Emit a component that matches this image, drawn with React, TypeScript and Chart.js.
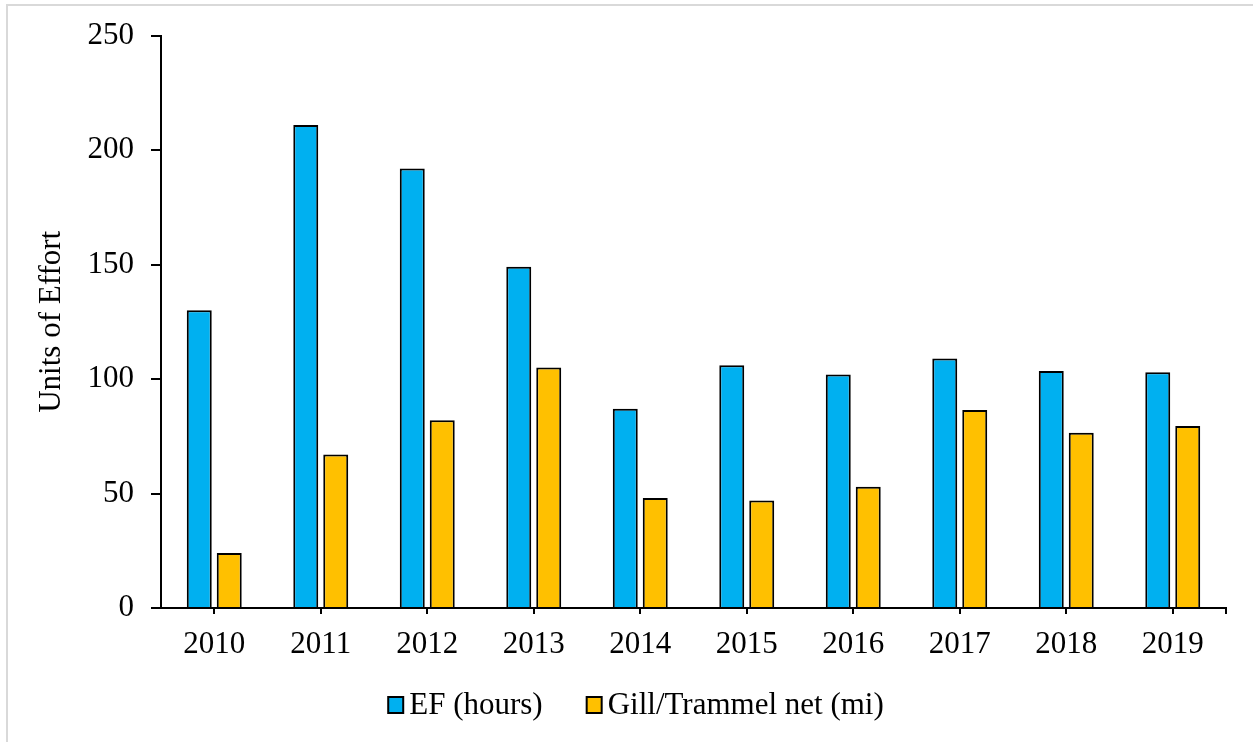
import React, { useEffect, useRef } from "react";
import { Chart, registerables } from "chart.js";

Chart.register(...registerables);

const years = ["2010", "2011", "2012", "2013", "2014", "2015", "2016", "2017", "2018", "2019"];
const efHours = [130, 211, 192, 149, 87, 106, 102, 109, 103.5, 103];
const gillNet = [24, 67, 82, 105, 48, 47, 53, 86.5, 76.5, 79.5];
const yTicks = [0, 50, 100, 150, 200, 250];
const seriesLabels = ["EF (hours)", "Gill/Trammel net (mi)"];

const FONT = '"Liberation Serif", "Times New Roman", serif';
const FS = 31;

const endTickPlugin = {
  id: "endTick",
  afterDraw(chart: any) {
    const { ctx, chartArea } = chart;
    ctx.save();
    ctx.strokeStyle = "#000";
    ctx.lineWidth = 2;
    ctx.beginPath();
    ctx.moveTo(chartArea.right, chartArea.bottom);
    ctx.lineTo(chartArea.right, chartArea.bottom + 6);
    ctx.stroke();
    ctx.restore();
  },
};

const legendPlugin = {
  id: "customLegend",
  afterDraw(chart: any) {
    const { ctx } = chart;
    const ds = chart.data.datasets;
    ctx.save();
    ctx.font = `${FS}px ${FONT}`;
    const boxW = 15;
    const boxH = 16;
    const gap = 6;
    const itemGap = 44;
    const widths = ds.map((d: any) => boxW + gap + ctx.measureText(d.label).width);
    const total = widths.reduce((a: number, b: number) => a + b, 0) + itemGap * (ds.length - 1);
    const cx = 636;
    const cy = 705;
    let x = cx - total / 2;
    ds.forEach((d: any, i: number) => {
      ctx.fillStyle = d.backgroundColor;
      ctx.fillRect(x, cy - boxH / 2, boxW, boxH);
      ctx.strokeStyle = "#000";
      ctx.lineWidth = 2;
      ctx.strokeRect(x, cy - boxH / 2, boxW, boxH);
      ctx.fillStyle = "#000";
      ctx.textBaseline = "middle";
      ctx.textAlign = "left";
      ctx.fillText(d.label, x + boxW + gap, cy + 1);
      x += widths[i] + itemGap;
    });
    ctx.restore();
  },
};

export default function App() {
  const ref = useRef<HTMLCanvasElement | null>(null);

  useEffect(() => {
    if (!ref.current) return;
    const chart = new Chart(ref.current, {
      type: "bar",
      data: {
        labels: years,
        datasets: [
          {
            label: seriesLabels[0],
            data: efHours,
            backgroundColor: "#00B0F0",
            borderColor: "#000",
            borderWidth: 2,
          },
          {
            label: seriesLabels[1],
            data: gillNet,
            backgroundColor: "#FFC000",
            borderColor: "#000",
            borderWidth: 2,
          },
        ],
      },
      options: {
        responsive: false,
        animation: false,
        devicePixelRatio: 1,
        datasets: {
          bar: {
            categoryPercentage: 0.563,
            barPercentage: 0.833,
          },
        },
        layout: { padding: { left: 0, right: 27, top: 35, bottom: 63 } },
        plugins: {
          legend: { display: false },
          tooltip: { enabled: false },
        },
        scales: {
          x: {
            type: "category",
            offset: true,
            grid: {
              offset: false,
              drawOnChartArea: false,
              drawTicks: true,
              tickLength: 6,
              color: "#000",
              lineWidth: 2,
            },
            border: { display: true, color: "#000", width: 2 },
            ticks: {
              color: "#000",
              font: { family: FONT, size: FS },
              padding: 12,
              maxRotation: 0,
            },
            afterFit: (s: any) => {
              s.height = 71;
            },
          },
          y: {
            min: 0,
            max: 250,
            afterBuildTicks: (s: any) => {
              s.ticks = yTicks.map((v) => ({ value: v }));
            },
            grid: {
              drawOnChartArea: false,
              drawTicks: true,
              tickLength: 10,
              color: "#000",
              lineWidth: 2,
            },
            border: { display: true, color: "#000", width: 2 },
            ticks: {
              color: "#000",
              font: { family: FONT, size: FS },
              padding: 17,
            },
            title: {
              display: true,
              text: "Units of Effort",
              color: "#000",
              font: { family: FONT, size: FS },
              padding: { top: 33, bottom: 0 },
            },
            afterFit: (s: any) => {
              s.width = 161;
            },
          },
        },
      },
      plugins: [endTickPlugin, legendPlugin],
    });
    return () => chart.destroy();
  }, []);

  return (
    <div
      style={{
        position: "fixed",
        left: 0,
        top: 0,
        width: 1253,
        height: 742,
        background: "#fff",
        overflow: "hidden",
      }}
    >
      <div
        style={{
          position: "absolute",
          left: 6,
          top: 4,
          width: 1300,
          height: 800,
          borderLeft: "2px solid #d9d9d9",
          borderTop: "2px solid #d9d9d9",
        }}
      />
      <canvas
        ref={ref}
        width={1253}
        height={742}
        style={{ position: "absolute", left: 0, top: 0, width: 1253, height: 742 }}
      />
    </div>
  );
}
